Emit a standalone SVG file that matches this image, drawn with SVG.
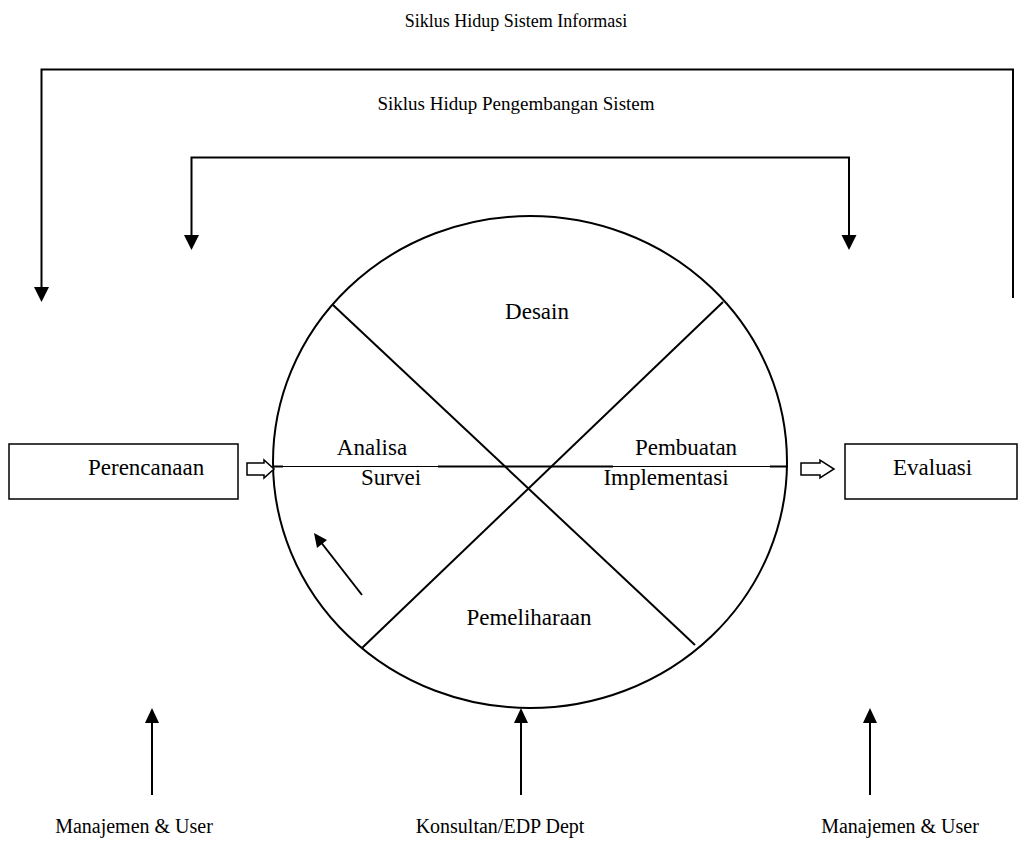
<svg xmlns="http://www.w3.org/2000/svg" width="1019" height="843" viewBox="0 0 1019 843">
  <style>
    text { font-family: "Liberation Serif", "Times New Roman", serif; font-size: 20px; fill: #000; }
    .c { text-anchor: middle; }
    .big { font-size: 23px; }
    .t1 { font-size: 18px; }
    .t2 { font-size: 19px; }
    .ln { fill: none; stroke: #000; stroke-width: 2; }
    .thin { fill: none; stroke: #000; stroke-width: 1; }
    .box { fill: #fff; stroke: #000; stroke-width: 1.5; }
    .hollow { fill: #fff; stroke: #000; stroke-width: 1.5; stroke-linejoin: miter; }
  </style>

  <rect width="1019" height="843" fill="#fff"/>

  <text class="c t1" x="516" y="27">Siklus Hidup Sistem Informasi</text>
  <text class="c t2" x="516" y="110">Siklus Hidup Pengembangan Sistem</text>

  <!-- cycle wheel -->
  <g id="cycle">
    <ellipse class="ln" cx="530" cy="462" rx="257" ry="246"/>
    <line class="ln" x1="333" y1="305" x2="695" y2="645"/>
    <line class="ln" x1="723" y1="302" x2="362" y2="648"/>
    <line class="thin" x1="273" y1="466.5" x2="788" y2="466.5"/>
    <line class="ln" x1="273" y1="466.5" x2="283" y2="466.5"/>
    <line class="ln" x1="438" y1="466.5" x2="613" y2="466.5"/>
    <line class="ln" x1="770" y1="466.5" x2="788" y2="466.5"/>
    <text class="c big" x="537" y="319">Desain</text>
    <text class="c big" x="372" y="455">Analisa</text>
    <text class="c big" x="686" y="455">Pembuatan</text>
    <text class="c big" x="391" y="485">Survei</text>
    <text class="c big" x="666" y="485">Implementasi</text>
    <text class="c big" x="529" y="625">Pemeliharaan</text>
  </g>

  <g id="perencanaan">
    <rect class="box" x="9" y="444" width="229" height="55"/>
    <text class="big" x="88" y="475">Perencanaan</text>
  </g>

  <g id="evaluasi">
    <rect class="box" x="845" y="444" width="172" height="55"/>
    <text class="big" x="893" y="475">Evaluasi</text>
  </g>

  <g id="label-manajemen-kiri">
    <text class="c" x="134" y="833">Manajemen &amp; User</text>
  </g>
  <g id="label-konsultan">
    <text class="c" x="500" y="833">Konsultan/EDP Dept</text>
  </g>
  <g id="label-manajemen-kanan">
    <text class="c" x="900" y="833">Manajemen &amp; User</text>
  </g>

  <g id="connectors">
    <!-- outer bracket -->
    <polyline class="ln" points="41.5,290 41.5,69.5 1013,69.5 1013,298"/>
    <path d="M34,287 L49,287 L41.5,302 Z"/>
    <!-- inner bracket -->
    <polyline class="ln" points="191.5,238 191.5,157.5 849,157.5 849,238"/>
    <path d="M184,235 L199,235 L191.5,250 Z"/>
    <path d="M841.5,235 L856.5,235 L849,250 Z"/>
    <!-- hollow flow arrows -->
    <path class="hollow" d="M247,463 L264,463 L264,460 L274,469 L264,478 L264,475 L247,475 Z"/>
    <path class="hollow" d="M801,463 L820,463 L820,460 L834,469 L820,478 L820,475 L801,475 Z"/>
    <!-- rotation arrow -->
    <line class="ln" x1="362" y1="595" x2="320" y2="541"/>
    <path d="M314,533 L327,540 L317,548 Z"/>
    <!-- upward arrows -->
    <line class="ln" x1="152" y1="795" x2="152" y2="720"/>
    <path d="M145,723 L159,723 L152,708 Z"/>
    <line class="ln" x1="521" y1="795" x2="521" y2="720"/>
    <path d="M514,723 L528,723 L521,708 Z"/>
    <line class="ln" x1="870" y1="795" x2="870" y2="720"/>
    <path d="M863,723 L877,723 L870,708 Z"/>
  </g>
</svg>
